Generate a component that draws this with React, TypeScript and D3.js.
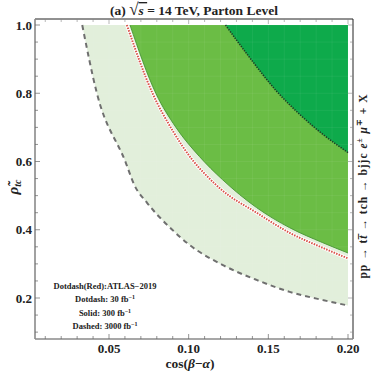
import React, { useEffect, useRef } from "react";
import * as d3 from "d3";

// boundary curves: [cos(beta-alpha), rho_tc]
const dashed3000: [number, number][] = [
  [0.0332, 1.0], [0.0424, 0.8], [0.0605, 0.597], [0.0658, 0.532], [0.0739, 0.479],
  [0.0897, 0.4], [0.1004, 0.356], [0.1212, 0.297], [0.1426, 0.253], [0.1634, 0.218],
  [0.1842, 0.194], [0.2, 0.178]
];
const atlas2019: [number, number][] = [
  [0.0612, 1.0], [0.0773, 0.8], [0.09, 0.69], [0.1023, 0.605], [0.1109, 0.56], [0.1212, 0.515],
  [0.1426, 0.45], [0.1634, 0.391], [0.1842, 0.347], [0.2, 0.316]
];
const solid300: [number, number][] = [
  [0.0632, 1.0], [0.0794, 0.8], [0.092, 0.7], [0.1067, 0.615], [0.1212, 0.547],
  [0.1426, 0.465], [0.1634, 0.406], [0.1842, 0.362], [0.2, 0.332]
];
const dotdash30: [number, number][] = [
  [0.1231, 1.0], [0.1382, 0.905], [0.155, 0.807], [0.1697, 0.738], [0.1844, 0.679],
  [0.2, 0.626]
];

const xTicks = [0.05, 0.1, 0.15, 0.2];
const yTicks = [0.2, 0.4, 0.6, 0.8, 1.0];
const legendLines = ["Dotdash(Red):ATLAS\u22122019", "Dotdash: 30 fb", "Solid: 300 fb", "Dashed: 3000 fb"];

const W = 371, H = 371;
const frame = { left: 35, right: 353, top: 19, bottom: 339 };

export default function App() {
  const ref = useRef<SVGSVGElement>(null);

  useEffect(() => {
    const svg = d3.select(ref.current);
    svg.selectAll("*").remove();
    const font = "'Liberation Serif', 'Times New Roman', serif";

    const x = d3.scaleLinear().domain([0.05, 0.2]).range([109, 348]);
    const y = d3.scaleLinear().domain([0.2, 1.0]).range([298, 25]);
    const xMax = 0.2, yMax = 1.0;

    const line = d3.line<[number, number]>()
      .x(d => x(d[0]))
      .y(d => y(d[1]))
      .curve(d3.curveMonotoneX);

    const region = (pts: [number, number][]) =>
      line(pts) + `L${x(xMax)},${y(yMax)}Z`;

    const g = svg.append("g");
    g.append("path").attr("d", region(dashed3000)).attr("fill", "#e2efdb");
    g.append("path").attr("d", region(solid300)).attr("fill", "#6bbd45");
    g.append("path").attr("d", region(dotdash30)).attr("fill", "#0eaa4b");

    // faint mesh lines inside the shaded area
    const clipId = "clipfill";
    svg.append("clipPath").attr("id", clipId).append("path").attr("d", region(dashed3000));
    const mesh = g.append("g").attr("clip-path", `url(#${clipId})`);
    d3.range(0.01, 0.2001, 0.01).forEach(v => {
      mesh.append("line").attr("x1", x(v)).attr("x2", x(v)).attr("y1", y(0.08)).attr("y2", y(1.0))
        .attr("stroke", "rgba(255,255,255,0.06)").attr("stroke-width", 1);
    });
    d3.range(0.1, 1.0001, 0.05).forEach(v => {
      mesh.append("line").attr("x1", x(0)).attr("x2", x(0.2)).attr("y1", y(v)).attr("y2", y(v))
        .attr("stroke", "rgba(255,255,255,0.06)").attr("stroke-width", 1);
    });

    // boundary lines
    g.append("path").attr("d", line(dashed3000)).attr("fill", "none")
      .attr("stroke", "#6f6f6f").attr("stroke-width", 2).attr("stroke-dasharray", "5,4");
    g.append("path").attr("d", line(atlas2019)).attr("fill", "none")
      .attr("stroke", "#fff").attr("stroke-width", 3.5);
    g.append("path").attr("d", line(atlas2019)).attr("fill", "none")
      .attr("stroke", "#d9534a").attr("stroke-width", 2).attr("stroke-dasharray", "1.5,1.2");
    g.append("path").attr("d", line(solid300)).attr("fill", "none")
      .attr("stroke", "#4f9c3a").attr("stroke-width", 1);
    g.append("path").attr("d", line(dotdash30)).attr("fill", "none")
      .attr("stroke", "#1d3b25").attr("stroke-width", 1.6).attr("stroke-dasharray", "1.3,1.3");

    // frame
    const fr = svg.append("g");
    fr.append("line").attr("x1", frame.left).attr("x2", frame.right).attr("y1", frame.top).attr("y2", frame.top)
      .attr("stroke", "#222").attr("stroke-width", 1);
    fr.append("line").attr("x1", frame.right).attr("x2", frame.right).attr("y1", frame.top).attr("y2", frame.bottom)
      .attr("stroke", "#222").attr("stroke-width", 1);
    fr.append("line").attr("x1", frame.left).attr("x2", frame.right).attr("y1", frame.bottom).attr("y2", frame.bottom)
      .attr("stroke", "#8a8a8a").attr("stroke-width", 1.6);
    fr.append("line").attr("x1", frame.left).attr("x2", frame.left).attr("y1", frame.top).attr("y2", frame.bottom)
      .attr("stroke", "#8a8a8a").attr("stroke-width", 1.6);

    // ticks
    const xMinor = d3.range(0.01, 0.2001, 0.01);
    const yMinor = d3.range(0.1, 1.0001, 0.05);
    xMinor.forEach(v => {
      const major = xTicks.some(t => Math.abs(t - v) < 1e-6);
      const len = major ? 5 : 3;
      fr.append("line").attr("x1", x(v)).attr("x2", x(v)).attr("y1", frame.bottom).attr("y2", frame.bottom - len)
        .attr("stroke", "#666").attr("stroke-width", 0.7);
      fr.append("line").attr("x1", x(v)).attr("x2", x(v)).attr("y1", frame.top).attr("y2", frame.top + len)
        .attr("stroke", "#888").attr("stroke-width", 0.6);
    });
    yMinor.forEach(v => {
      const major = yTicks.some(t => Math.abs(t - v) < 1e-6);
      const len = major ? 5 : 3;
      fr.append("line").attr("x1", frame.left).attr("x2", frame.left + len).attr("y1", y(v)).attr("y2", y(v))
        .attr("stroke", "#666").attr("stroke-width", 0.7);
      fr.append("line").attr("x1", frame.right).attr("x2", frame.right - len).attr("y1", y(v)).attr("y2", y(v))
        .attr("stroke", "#888").attr("stroke-width", 0.6);
    });

    // tick labels
    xTicks.forEach(v => {
      svg.append("text").attr("x", x(v)).attr("y", 353).attr("text-anchor", "middle")
        .attr("font-family", font).attr("font-weight", "bold").attr("font-size", 13)
        .attr("fill", "#222").text(d3.format(".2f")(v));
    });
    yTicks.forEach(v => {
      svg.append("text").attr("x", 32).attr("y", y(v) + 4.5).attr("text-anchor", "end")
        .attr("font-family", font).attr("font-weight", "bold").attr("font-size", 13)
        .attr("fill", "#222").text(d3.format(".1f")(v));
    });

    // title
    const title = svg.append("text").attr("x", 194).attr("y", 15).attr("text-anchor", "middle")
      .attr("font-family", font).attr("font-weight", "bold").attr("font-size", 13.5).attr("fill", "#222");
    title.append("tspan").text("(a) ");
    title.append("tspan").attr("font-size", 17).text("\u221A");
    title.append("tspan").attr("font-style", "italic").attr("text-decoration", "overline").text("s ");
    title.append("tspan").text(" = 14 TeV, Parton Level");

    // x label
    const xl = svg.append("text").attr("x", 190).attr("y", 368).attr("text-anchor", "middle")
      .attr("font-family", font).attr("font-weight", "bold").attr("font-size", 13.5).attr("fill", "#222");
    xl.append("tspan").text("cos(");
    xl.append("tspan").attr("font-style", "italic").text("\u03B2");
    xl.append("tspan").text("\u2212");
    xl.append("tspan").attr("font-style", "italic").text("\u03B1");
    xl.append("tspan").text(")");

    // y label
    const yl = svg.append("text").attr("transform", "translate(18,187) rotate(-90)").attr("text-anchor", "middle")
      .attr("font-family", font).attr("font-weight", "bold").attr("font-size", 15).attr("fill", "#222");
    yl.append("tspan").attr("font-style", "italic").text("\u03C1\u0303");
    yl.append("tspan").attr("font-style", "italic").attr("font-size", 10).attr("dy", 3).text("tc");

    // right label
    const rl = svg.append("text").attr("transform", "translate(367,186) rotate(-90)").attr("text-anchor", "middle")
      .attr("font-family", font).attr("font-weight", "bold").attr("font-size", 11.5)
      .attr("letter-spacing", 1).attr("fill", "#222");
    rl.append("tspan").text("pp \u2192 t");
    rl.append("tspan").attr("font-style", "italic").text("t\u0305");
    rl.append("tspan").text(" \u2192 tch \u2192 bjjc ");
    rl.append("tspan").attr("font-style", "italic").text("e");
    rl.append("tspan").attr("font-size", 7.5).attr("dy", -5).text("\u00B1");
    rl.append("tspan").attr("dy", 5).text(" ");
    rl.append("tspan").attr("font-style", "italic").text("\u03BC");
    rl.append("tspan").attr("font-size", 7.5).attr("dy", -5).text("\u2213");
    rl.append("tspan").attr("dy", 5).text(" + X");

    // legend
    const ly = [289, 302, 316, 329];
    legendLines.forEach((t, i) => {
      const tx = svg.append("text").attr("x", 105).attr("y", ly[i]).attr("text-anchor", "middle")
        .attr("font-family", font).attr("font-weight", "bold").attr("font-size", 8.5).attr("fill", "#222");
      tx.append("tspan").text(t);
      if (i > 0) tx.append("tspan").attr("font-size", 6).attr("dy", -3.5).text("\u22121");
    });
  }, []);

  return (
    <svg ref={ref} width={W} height={H} style={{ position: "absolute", left: 0, top: 0, background: "#fff" }} />
  );
}
